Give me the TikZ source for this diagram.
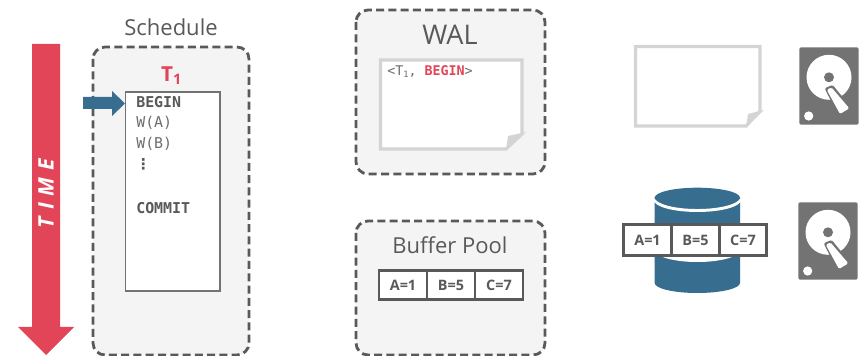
\documentclass[tikz,border=0pt]{standalone}
\usepackage{fontspec}
\setmainfont{Open Sans}
\newfontfamily\codefont{DejaVu Sans Mono}
\definecolor{stroke}{HTML}{595959}
\definecolor{panel}{HTML}{F4F4F4}
\definecolor{crim}{HTML}{E24558}
\definecolor{steel}{HTML}{376E8F}
\definecolor{paper}{HTML}{D4D4D4}
\definecolor{label}{HTML}{595959}
\definecolor{diskgray}{HTML}{737373}
\tikzset{
  panelbox/.style={draw=stroke,fill=panel,line width=2.1pt,dash pattern=on 6pt off 3.2pt,rounded corners=9pt},
  heading/.style={text=label,font=\fontsize{16.5}{19}\selectfont,inner sep=0pt},
  codeline/.style={anchor=west,inner sep=0pt,font=\codefont\fontsize{11.2}{13}\selectfont,text=label!88},
  codebold/.style={codeline,font=\codefont\bfseries\fontsize{11.2}{13}\selectfont,text=label},
  sheet/.style={draw=paper,fill=white,line width=2.4pt,line join=miter},
  cell/.style={draw=stroke,fill=white,line width=2.2pt,inner sep=0pt,font=\bfseries\fontsize{10.8}{12}\selectfont,text=label},
}
\newcommand{\diskicon}[2]{%
  \begin{scope}[shift={(#1,#2)}]
    \fill[diskgray,rounded corners=1.2pt] (799.3,47.3) rectangle (858.7,124.7);
    \fill[white] (829,77.3) circle[radius=22.5];
    \fill[diskgray] (829,77.3) circle[radius=5];
    \fill[white] (808.7,116) circle[radius=4.6];
    \filldraw[diskgray,line width=3pt,line join=round] (827.3,89.3)--(832,87.3)--(849.3,108.3)--(840,114)--cycle;
    \fill[white,rounded corners=1pt] (826.8,89.8)--(831.5,87.5)--(849.3,108.3)--(840,114)--cycle;
  \end{scope}}
\begin{document}
\begin{tikzpicture}[x=0.75pt,y=-0.75pt]
\useasboundingbox (0,0) rectangle (865,356);
% time arrow
\fill[crim] (32,44)--(60,44)--(60,327)--(74,327)--(46,355)--(18,327)--(32,327)--cycle;
\node[rotate=90,text=white,inner sep=0pt,font=\bfseries\itshape\fontsize{16}{18}\selectfont] (timelabel) at (46,193.5) {T\,\,I\,\,M\,\,E};
% schedule
\node[heading] (schedlabel) at (171,27) {Schedule};
\draw[panelbox] (93,47) rectangle (249,355);
\node[text=crim,inner sep=0pt,font=\bfseries\fontsize{15.5}{19}\selectfont] (tone) at (171.5,75.5) {T\textsubscript{1}};
\draw[draw=diskgray,fill=white,line width=1.2pt] (125.5,92) rectangle (220,291);
\fill[steel] (83,97)--(112,97)--(112,91)--(125,103.5)--(112,116)--(112,109)--(83,109)--cycle;
\node[codebold] (lbegin) at (136,102) {BEGIN};
\node[codeline] (lwa) at (136,123) {W(A)};
\node[codeline] (lwb) at (136,144) {W(B)};
\node[codebold] (ldots) at (135.5,164) {\fontspec{DejaVu Sans}\bfseries ⋮};
\node[codebold] (lcommit) at (136,208.5) {COMMIT};
% WAL
\draw[panelbox] (356,10) rectangle (545,174);
\node[heading,font=\fontsize{20.3}{24}\selectfont] (wallabel) at (450,35) {WAL};
\draw[sheet] (380.5,60) -- (522,60) -- (522,134) -- (506,149) -- (380.5,149) -- cycle;
\fill[paper] (526,132)--(508,136)--(506,150.5)--cycle;
\node[codeline,font=\codefont\fontsize{10}{12}\selectfont] (walrec) at (387,71.5) {<T\raisebox{-0.25ex}{\fontsize{6.5}{7}\selectfont 1}, \textcolor{crim}{\bfseries BEGIN}>};
% Buffer pool
\draw[panelbox] (356,221) rectangle (545,355);
\node[heading] (poollabel) at (450,245) {Buffer Pool};
\node[cell,minimum width=36pt,minimum height=21.6pt] (ba) at (403,285) {A=1};
\node[cell,minimum width=36pt,minimum height=21.6pt] (bb) at (451,285) {B=5};
\node[cell,minimum width=36pt,minimum height=21.6pt] (bc) at (499,285) {C=7};
% disk-side log page
\draw[sheet] (635.5,46.5) -- (760,46.5) -- (760,111) -- (746,126) -- (635.5,126) -- cycle;
\fill[paper] (764,110)--(748,114)--(746,127.5)--cycle;
\diskicon{0}{0}
% database
\fill[steel] (654.7,197.7) -- (654.7,283) arc[start angle=180,end angle=360,x radius=42.65,y radius=-10] -- (740,197.7) -- cycle;
\fill[white] (654.7,240) rectangle (740,250);
\fill[white] (654.7,250) arc[start angle=180,end angle=360,x radius=42.65,y radius=-12] -- cycle;
\draw[white,line width=2.2pt] (654.7,199) arc[start angle=180,end angle=360,x radius=42.65,y radius=-11.5];
\fill[steel] (697.35,197.7) ellipse[x radius=42.65,y radius=10];
\node[cell,minimum width=36.2pt,minimum height=23pt] (da) at (647.5,240.3) {A=1};
\node[cell,minimum width=35.5pt,minimum height=23pt] (db) at (695.5,240.3) {B=5};
\node[cell,minimum width=35.5pt,minimum height=23pt] (dc) at (743,240.3) {C=7};
\diskicon{-1}{155}
\end{tikzpicture}
\end{document}
